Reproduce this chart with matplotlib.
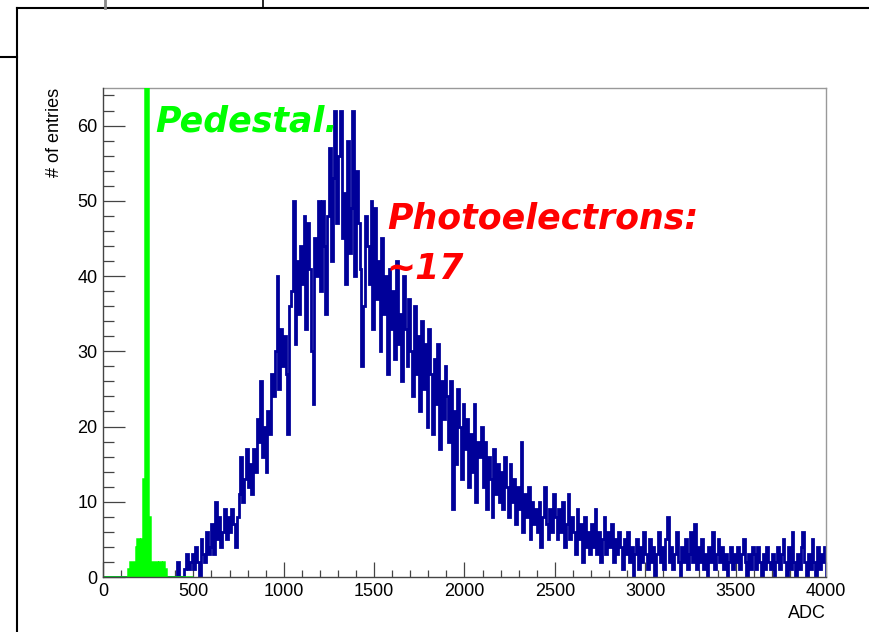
import numpy as np
import matplotlib
matplotlib.use('Agg')
import matplotlib.pyplot as plt
from matplotlib.lines import Line2D

plt.rcParams['font.family'] = ['Liberation Sans', 'DejaVu Sans']

# Histograma do pedestal (bins de 10 ADC, 0 - 500)
pedestal_bin = 10
pedestal_counts = [
    0, 0, 0, 0, 0, 0, 0, 0, 0, 0,
    0, 0, 0, 0, 1, 2, 2, 2, 4, 5,
    4, 5, 13, 300, 150, 8, 2, 2, 2, 2,
    1, 2, 1, 2, 1, 0, 0, 0, 0, 0,
    0, 0, 0, 0, 0, 0, 0, 0, 0, 0,
]

# Histograma do sinal (bins de 10 ADC, 0 - 4000)
signal_bin = 10
signal_counts = [
    0, 0, 0, 0, 0, 0, 0, 0, 0, 0,
    0, 0, 0, 0, 0, 0, 0, 0, 0, 0,
    0, 0, 0, 0, 0, 0, 0, 0, 0, 0,
    0, 0, 0, 0, 0, 0, 0, 0, 0, 0,
    0, 2, 0, 0, 0, 1, 3, 1, 2, 3,
    1, 4, 2, 0, 5, 3, 2, 6, 3, 4,
    7, 3, 10, 5, 8, 4, 6, 9, 5, 8,
    6, 9, 7, 4, 8, 11, 16, 10, 13, 17,
    12, 15, 11, 17, 14, 21, 18, 26, 16, 20,
    14, 22, 19, 27, 24, 30, 40, 25, 33, 28,
    32, 27, 19, 36, 38, 50, 31, 42, 35, 44,
    39, 48, 33, 47, 41, 30, 23, 45, 40, 50,
    38, 50, 44, 35, 48, 57, 42, 53, 62, 47,
    56, 62, 45, 51, 39, 58, 43, 49, 62, 40,
    54, 47, 41, 28, 36, 48, 44, 39, 50, 33,
    49, 37, 42, 30, 45, 35, 40, 27, 41, 33,
    38, 29, 42, 31, 35, 26, 40, 33, 28, 37,
    30, 24, 36, 27, 32, 22, 34, 25, 31, 20,
    33, 27, 19, 29, 23, 31, 17, 26, 21, 28,
    24, 18, 26, 9, 22, 15, 25, 20, 13, 23,
    17, 21, 12, 19, 14, 23, 10, 18, 16, 20,
    12, 18, 9, 16, 13, 8, 17, 11, 15, 10,
    14, 9, 16, 12, 8, 15, 10, 13, 7, 12,
    9, 18, 6, 11, 8, 12, 5, 10, 7, 9,
    6, 10, 4, 8, 12, 7, 5, 9, 6, 11,
    8, 5, 9, 6, 10, 4, 7, 11, 5, 8,
    6, 3, 9, 5, 7, 2, 8, 4, 6, 3,
    7, 4, 9, 3, 6, 2, 5, 8, 3, 6,
    4, 7, 2, 5, 3, 6, 4, 1, 5, 3,
    6, 2, 4, 0, 3, 5, 1, 4, 2, 6,
    3, 1, 5, 2, 4, 0, 3, 6, 2, 4,
    1, 5, 8, 2, 4, 1, 3, 6, 2, 0,
    4, 2, 5, 1, 3, 6, 2, 7, 1, 4,
    2, 5, 1, 3, 0, 4, 2, 6, 1, 3,
    5, 2, 4, 1, 3, 0, 2, 4, 1, 3,
    2, 4, 1, 3, 5, 2, 0, 3, 1, 4,
    3, 1, 4, 2, 0, 3, 1, 4, 2, 1,
    3, 0, 2, 4, 1, 3, 5, 2, 0, 4,
    1, 6, 2, 0, 3, 1, 4, 6, 2, 0,
    3, 1, 5, 2, 0, 4, 1, 3, 2, 4,
]

x_ticks = [0, 500, 1000, 1500, 2000, 2500, 3000, 3500, 4000]
y_ticks = [0, 10, 20, 30, 40, 50, 60]

pedestal_edges = np.arange(len(pedestal_counts) + 1) * pedestal_bin
signal_edges = np.arange(len(signal_counts) + 1) * signal_bin

fig = plt.figure(figsize=(8.7, 6.32), dpi=100)
ax = fig.add_axes([0.1184, 0.0870, 0.8310, 0.7738])

# Sinal (contorno, azul) e pedestal (preenchido, verde) por cima
ax.stairs(signal_counts, signal_edges, color='#000099', lw=2.0, zorder=2)
ax.stairs(pedestal_counts, pedestal_edges, fill=True, facecolor='#00ff00',
          edgecolor='#00ff00', lw=1.8, zorder=3)

ax.set_xlim(0, 4000)
ax.set_ylim(0, 65)
ax.set_xticks(x_ticks)
ax.set_xticks(np.arange(0, 4001, 100), minor=True)
ax.set_yticks(y_ticks)
ax.set_yticks(np.arange(0, 65, 2), minor=True)

ax.tick_params(axis='x', which='major', direction='in', length=10.6, width=0.9,
               color='#444444', labelsize=13, pad=4)
ax.tick_params(axis='x', which='minor', direction='in', length=5.3, width=0.9,
               color='#444444')
ax.tick_params(axis='y', which='major', direction='in', length=15.6, width=0.9,
               color='#444444', labelsize=13, pad=4)
ax.tick_params(axis='y', which='minor', direction='in', length=7.8, width=0.9,
               color='#444444')

for s in ['left', 'bottom']:
    ax.spines[s].set_color('#444444')
    ax.spines[s].set_linewidth(1.0)
    ax.spines[s].set_zorder(4)
for s in ['top', 'right']:
    ax.spines[s].set_color('#999999')
    ax.spines[s].set_linewidth(1.0)

ax.set_xlabel('ADC', loc='right', fontsize=13, labelpad=4)
ax.set_ylabel('# of entries', loc='top', fontsize=13, labelpad=10)

# Anotações
ax.text(290, 59.2, 'Pedestal.', color='#00ff00', fontsize=25,
        family='DejaVu Sans', weight='bold', style='oblique')
ax.text(1570, 46.3, 'Photoelectrons:', color='#ff0000', fontsize=25,
        family='DejaVu Sans', weight='bold', style='oblique')
ax.text(1570, 39.6, '~17', color='#ff0000', fontsize=25,
        family='DejaVu Sans', weight='bold', style='oblique')

# Bordas da captura de tela
W, H = 870, 632
fig.add_artist(Line2D([17 / W, 1], [1 - 8 / H, 1 - 8 / H], color='black', lw=1.5))
fig.add_artist(Line2D([17 / W, 17 / W], [0, 1 - 8 / H], color='black', lw=1.5))
fig.add_artist(Line2D([0, 17 / W], [1 - 57 / H, 1 - 57 / H], color='black', lw=1.5))
fig.add_artist(Line2D([105 / W, 105 / W], [1 - 8 / H, 1], color='#888888', lw=2))
fig.add_artist(Line2D([263 / W, 263 / W], [1 - 8 / H, 1], color='black', lw=1.2))

fig.savefig('out.png', dpi=100)
